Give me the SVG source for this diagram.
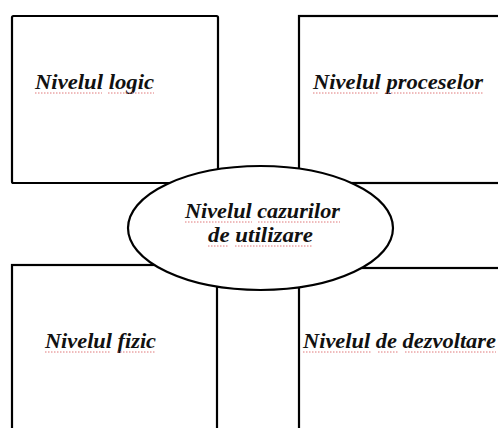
<svg xmlns="http://www.w3.org/2000/svg" width="498" height="428" viewBox="0 0 498 428">
<style>
.box{fill:#fff;stroke:#000;stroke-width:2.2}
.ell{fill:#fff;stroke:#000;stroke-width:2.2}
.t{font-family:'Liberation Serif','DejaVu Serif',serif;font-weight:700;font-style:italic;font-size:21px;fill:#111}
.sq{stroke:#e0787a;stroke-width:1;stroke-dasharray:1.5 1.5;fill:none}
</style>
<rect width="498" height="428" fill="#fff"/>
<g id="node-logic">
<rect class="box" x="12" y="16" width="206" height="167" rx="1.5"/>
<text class="t" x="35" y="89" textLength="119" lengthAdjust="spacingAndGlyphs">Nivelul logic</text>
<line class="sq" x1="35" y1="93" x2="102" y2="93"/><line class="sq" x1="108" y1="93" x2="154" y2="93"/>
</g>
<g id="node-procese">
<rect class="box" x="299" y="16" width="215" height="167"/>
<text class="t" x="313" y="89" textLength="170" lengthAdjust="spacingAndGlyphs">Nivelul proceselor</text>
<line class="sq" x1="313" y1="93" x2="378" y2="93"/><line class="sq" x1="385" y1="93" x2="483" y2="93"/>
</g>
<g id="node-fizic">
<rect class="box" x="12" y="265" width="205" height="180"/>
<text class="t" x="45" y="348" textLength="111" lengthAdjust="spacingAndGlyphs">Nivelul fizic</text>
<line class="sq" x1="45" y1="352" x2="111" y2="352"/><line class="sq" x1="117" y1="352" x2="156" y2="352"/>
</g>
<g id="node-dezvoltare">
<rect class="box" x="299" y="268" width="215" height="180"/>
<text class="t" x="303" y="348" textLength="193" lengthAdjust="spacingAndGlyphs">Nivelul de dezvoltare</text>
<line class="sq" x1="303" y1="352" x2="371" y2="352"/><line class="sq" x1="378" y1="352" x2="399" y2="352"/><line class="sq" x1="405" y1="352" x2="496" y2="352"/>
</g>
<g id="node-cazuri">
<ellipse class="ell" cx="260.5" cy="228" rx="132.5" ry="62"/>
<text class="t" x="185" y="218" textLength="155" lengthAdjust="spacingAndGlyphs">Nivelul cazurilor</text>
<text class="t" x="208" y="242" textLength="105" lengthAdjust="spacingAndGlyphs">de utilizare</text>
<line class="sq" x1="185" y1="222" x2="252" y2="222"/><line class="sq" x1="258" y1="222" x2="340" y2="222"/>
<line class="sq" x1="208" y1="246" x2="229" y2="246"/><line class="sq" x1="235" y1="246" x2="313" y2="246"/>
</g>
<g id="connectors"></g>
</svg>
